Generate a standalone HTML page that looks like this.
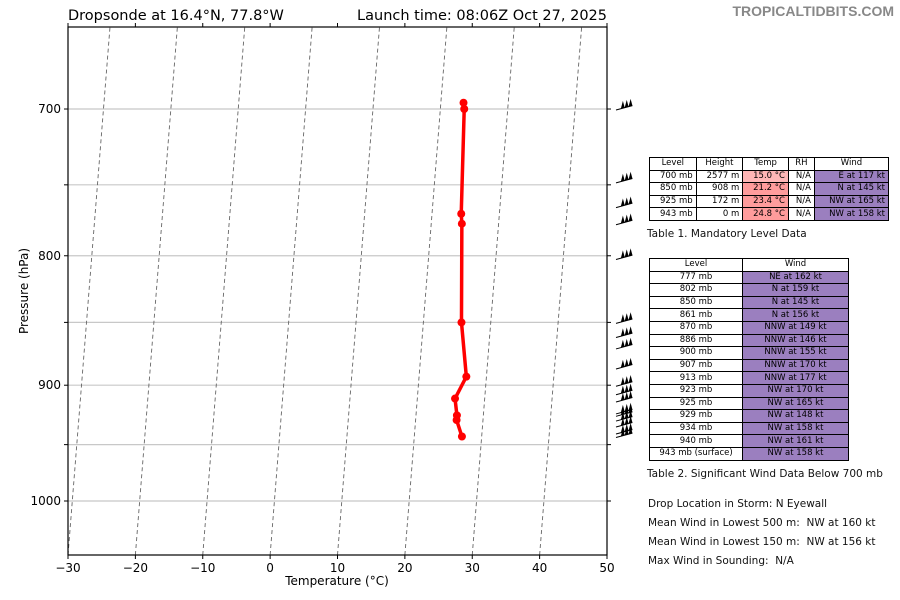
<!DOCTYPE html>
<html><head><meta charset="utf-8"><style>
body{margin:0;background:#fff;font-family:"DejaVu Sans","Liberation Sans",sans-serif;}
#wrap{position:relative;width:900px;height:600px;overflow:hidden}
table{position:absolute;border-collapse:collapse;font-size:8.5px;}
td{border:1px solid #000;height:11.6px;padding:0 3px;line-height:11px;text-align:right;}
td.c{text-align:center}
.t1{background:#ffb6b6}.t2{background:#ff9c9c}.w{background:#9b7fbf}
.txt{position:absolute;font-size:10.5px;color:#111;white-space:pre}
</style></head><body><div id="wrap">
<svg id="sk" width="900" height="600" style="position:absolute;left:0;top:0"></svg>
<div class="txt" style="right:6px;top:3px;font-size:14px;font-weight:bold;color:#888;font-family:'Liberation Sans',sans-serif">TROPICALTIDBITS.COM</div>
<table style="left:649px;top:157px;width:240px">
<tr><td class="c">Level</td><td class="c">Height</td><td class="c">Temp</td><td class="c">RH</td><td class="c">Wind</td></tr>
<tr><td>700 mb</td><td>2577 m</td><td class="t1">15.0 °C</td><td>N/A</td><td class="w">E at 117 kt</td></tr>
<tr><td>850 mb</td><td>908 m</td><td class="t2">21.2 °C</td><td>N/A</td><td class="w">N at 145 kt</td></tr>
<tr><td>925 mb</td><td>172 m</td><td class="t2">23.4 °C</td><td>N/A</td><td class="w">NW at 165 kt</td></tr>
<tr><td>943 mb</td><td>0 m</td><td class="t2">24.8 °C</td><td>N/A</td><td class="w">NW at 158 kt</td></tr>
</table>
<div class="txt" style="left:647px;top:228px">Table 1. Mandatory Level Data</div>
<table style="left:649px;top:258px;width:200px">
<tr><td class="c" style="width:86px">Level</td><td class="c">Wind</td></tr>
<tr><td class="c">777 mb</td><td class="c w">NE at 162 kt</td></tr>
<tr><td class="c">802 mb</td><td class="c w">N at 159 kt</td></tr>
<tr><td class="c">850 mb</td><td class="c w">N at 145 kt</td></tr>
<tr><td class="c">861 mb</td><td class="c w">N at 156 kt</td></tr>
<tr><td class="c">870 mb</td><td class="c w">NNW at 149 kt</td></tr>
<tr><td class="c">886 mb</td><td class="c w">NNW at 146 kt</td></tr>
<tr><td class="c">900 mb</td><td class="c w">NNW at 155 kt</td></tr>
<tr><td class="c">907 mb</td><td class="c w">NNW at 170 kt</td></tr>
<tr><td class="c">913 mb</td><td class="c w">NNW at 177 kt</td></tr>
<tr><td class="c">923 mb</td><td class="c w">NW at 170 kt</td></tr>
<tr><td class="c">925 mb</td><td class="c w">NW at 165 kt</td></tr>
<tr><td class="c">929 mb</td><td class="c w">NW at 148 kt</td></tr>
<tr><td class="c">934 mb</td><td class="c w">NW at 158 kt</td></tr>
<tr><td class="c">940 mb</td><td class="c w">NW at 161 kt</td></tr>
<tr><td class="c">943 mb (surface)</td><td class="c w">NW at 158 kt</td></tr>
</table>
<div class="txt" style="left:647px;top:468px">Table 2. Significant Wind Data Below 700 mb</div>
<div class="txt" style="left:648px;top:498px">Drop Location in Storm: N Eyewall</div>
<div class="txt" style="left:648px;top:517px">Mean Wind in Lowest 500 m:  NW at 160 kt</div>
<div class="txt" style="left:648px;top:536px">Mean Wind in Lowest 150 m:  NW at 156 kt</div>
<div class="txt" style="left:648px;top:555px">Max Wind in Sounding:  N/A</div>
</div>
<script>
const pressures=[696,700,770,777,850,893,911,925,929,943];
const temps=[14.7,15.0,17.8,18.2,21.2,23.6,22.6,23.4,23.5,24.8];
const xTicks=[-30,-20,-10,0,10,20,30,40,50];
const yTicks=[700,800,900,1000];
const gridP=[700,750,800,850,900,950,1000];
const barbP=[700,748,765,777,802,850,861,870,886,900,907,913,923,925,929,934,940,943];
const L=68,R=607,T=27,B=555;
const NS='http://www.w3.org/2000/svg';
const svg=document.getElementById('sk');
function py(p){return 501-(Math.log(1000)-Math.log(p))*1099;}
function tx(t){return L+(t+30)*6.7375;}
function dx(t,y){return tx(t)+0.2086*(B-y);}
function mk(tag,a,parent){const e=document.createElementNS(NS,tag);for(const k in a)e.setAttribute(k,a[k]);(parent||svg).appendChild(e);return e;}
gridP.forEach(p=>{const y=py(p);
const g=mk('line',{x1:L,x2:R,y1:y,y2:y,stroke:'#c8c8c8','stroke-width':1.2});


[[L-4,L],[R,R+4]].forEach(s=>mk('line',{x1:s[0],x2:s[1],y1:y,y2:y,stroke:'#000'}));});
const clip=mk('clipPath',{id:'cp'});mk('rect',{x:L,y:T,width:R-L,height:B-T},clip);
const iso=mk('g',{'clip-path':'url(#cp)'});
for(let t=-30;t<=80;t+=10){const l=mk('line',{x1:tx(t),y1:B,x2:tx(t)+42*(B-T+200)/528,y2:T-200,stroke:'#666','stroke-dasharray':'4,3','stroke-width':0.9},iso);

}
mk('rect',{x:L,y:T,width:R-L,height:B-T,fill:'none',stroke:'#000','stroke-width':1.2});
xTicks.forEach(t=>{const x=tx(t);mk('line',{x1:x,x2:x,y1:B,y2:B+4,stroke:'#000'});mk('line',{x1:x,x2:x,y1:T-4,y2:T,stroke:'#000'});
const s=mk('text',{x:x,y:B+17,'font-size':12,'text-anchor':'middle','font-family':'DejaVu Sans,sans-serif'});s.textContent=t<0?'\u2212'+(-t):t;

});
yTicks.forEach(p=>{const s=mk('text',{x:L-7,y:py(p)+4,'font-size':12,'text-anchor':'end','font-family':'DejaVu Sans,sans-serif'});s.textContent=p;

});
let e=mk('text',{x:337,y:585,'font-size':12,'text-anchor':'middle','font-family':'DejaVu Sans,sans-serif'});e.textContent='Temperature (°C)';

e=mk('text',{x:0,y:0,'font-size':12,'text-anchor':'middle','font-family':'DejaVu Sans,sans-serif',transform:'translate(28,291) rotate(-90)'});e.textContent='Pressure (hPa)';

e=mk('text',{x:68,y:20,'font-size':14.5,'font-family':'DejaVu Sans,sans-serif'});e.textContent='Dropsonde at 16.4°N, 77.8°W';

e=mk('text',{x:607,y:20,'font-size':14.5,'text-anchor':'end','font-family':'DejaVu Sans,sans-serif'});e.textContent='Launch time: 08:06Z Oct 27, 2025';

const pts=pressures.map((p,i)=>{const y=py(p);return [dx(temps[i],y),y];});
const line=mk('polyline',{points:pts.map(q=>q.join(',')).join(' '),fill:'none',stroke:'#f00','stroke-width':3.5});


pts.forEach(q=>{const c=mk('circle',{cx:q[0],cy:q[1],r:4,fill:'#f00'});

});
barbP.forEach(p=>{const y=py(p);const g=mk('g',{transform:'translate(616,'+(y+1)+') rotate(-15)'});


mk('line',{x1:0,y1:0,x2:17,y2:0,stroke:'#000','stroke-width':1},g);
for(let i=0;i<3;i++)mk('polygon',{points:(5+i*4)+',0 '+(9+i*4)+',0 '+(9+i*4)+',-7',fill:'#000'},g);});
</script></body></html>
